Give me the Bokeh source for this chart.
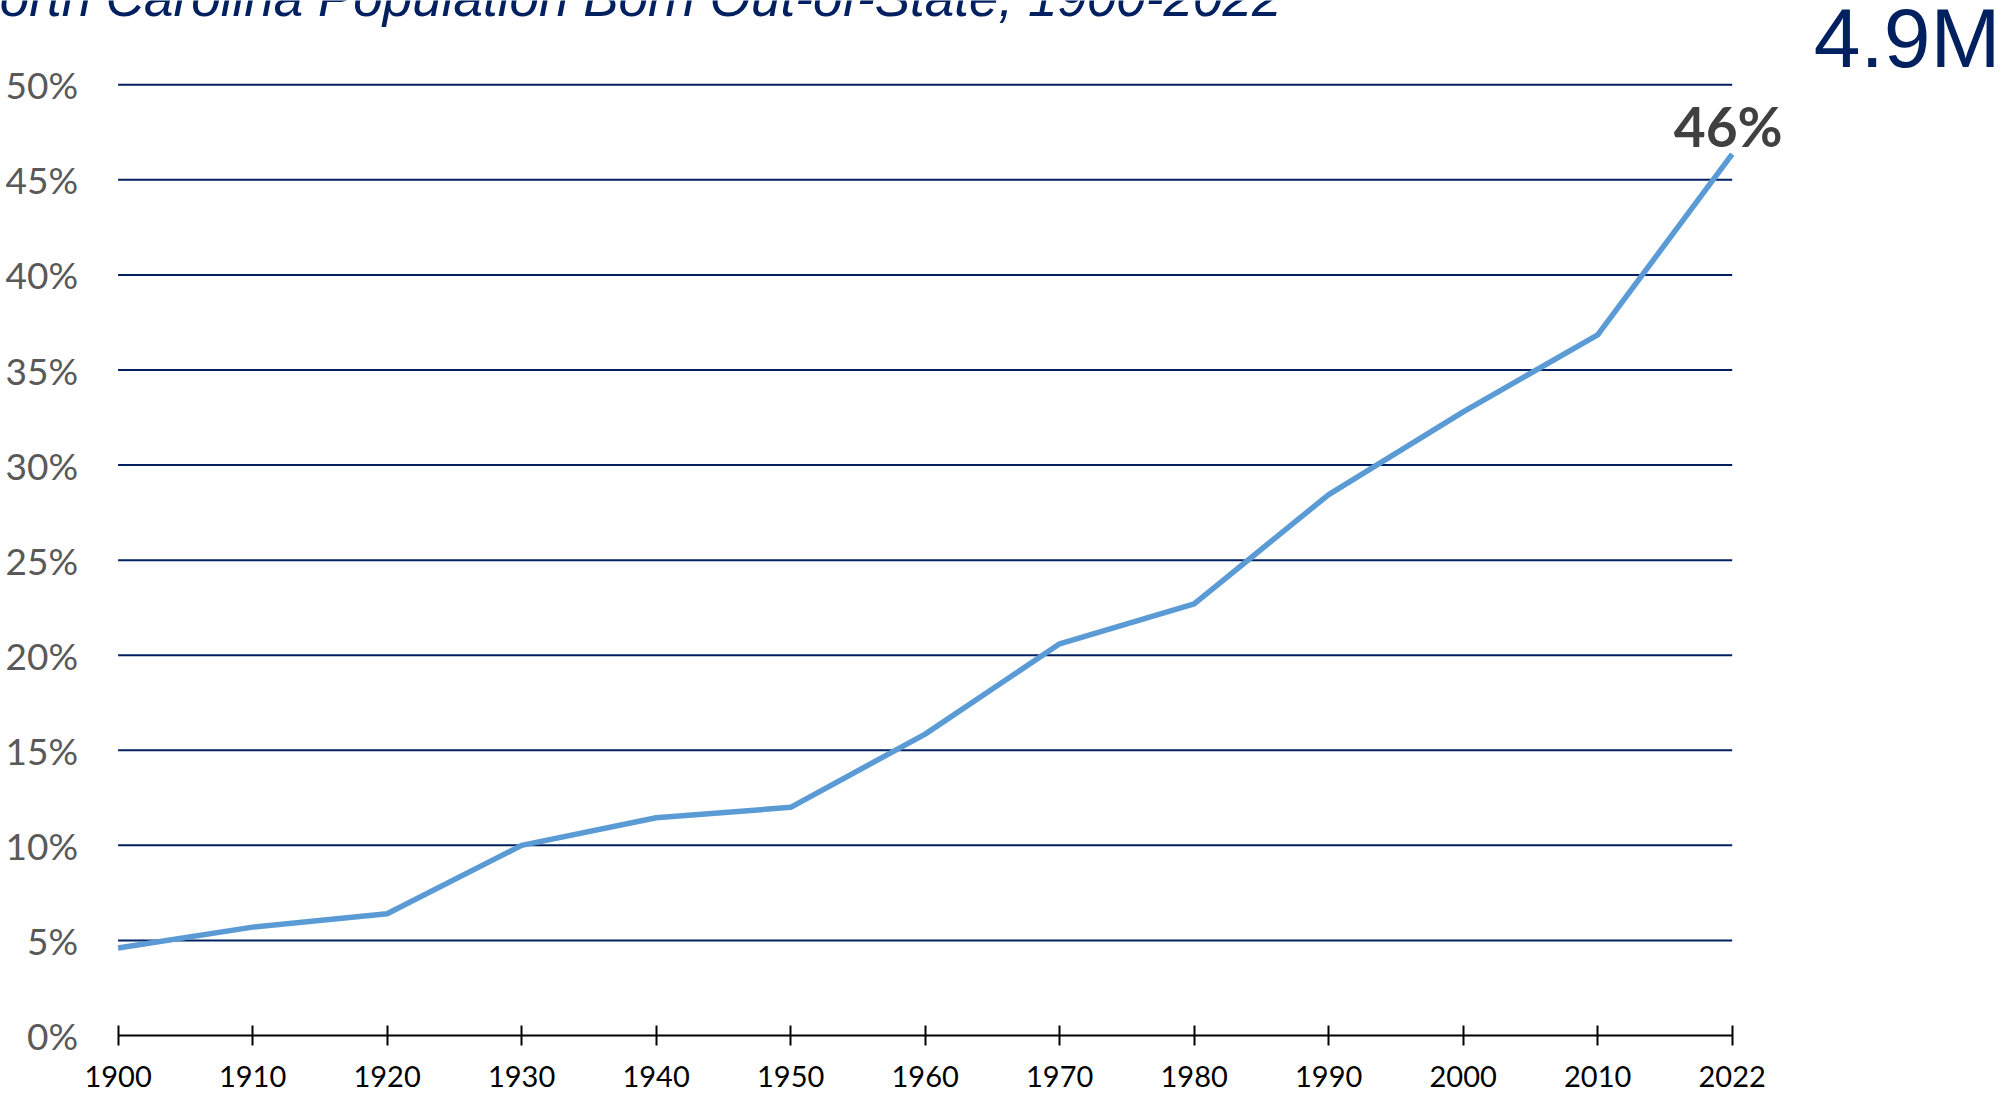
from bokeh.plotting import figure
from bokeh.models import Range1d, FixedTicker, Label
from bokeh.embed import file_html
from bokeh.resources import INLINE

# ---- data ----
years = ["1900", "1910", "1920", "1930", "1940", "1950", "1960",
         "1970", "1980", "1990", "2000", "2010", "2022"]
pct_out_of_state = [4.6, 5.7, 6.4, 10.0, 11.45, 12.0, 15.85,
                    20.6, 22.7, 28.45, 32.8, 36.85, 46.35]
y_ticks = [0, 5, 10, 15, 20, 25, 30, 35, 40, 45, 50]
title_text = "North Carolina Population Born Out-of-State, 1900-2022"
headline_text = "4.9M"

NAVY = "#002060"
LINE_BLUE = "#5B9BD5"

# ---- layout (pixels on the canvas) ----
W, H = 2004, 1095
PLOT_X0, PLOT_X1 = 117.6, 1731.7     # pixel x of first / last category
PLOT_Y0, PLOT_YTOP = 1035.0, 84.3    # pixel y of 0% / 50%

x_idx = list(range(len(years)))
n = len(years) - 1
px_per_x = (PLOT_X1 - PLOT_X0) / n
px_per_y = (PLOT_Y0 - PLOT_YTOP) / y_ticks[-1]
x_range = Range1d(-PLOT_X0 / px_per_x, n + (W - PLOT_X1) / px_per_x)
y_range = Range1d(-(H - PLOT_Y0) / px_per_y, PLOT_Y0 / px_per_y)

p = figure(width=W, height=H, output_backend="svg", toolbar_location=None,
           x_range=x_range, y_range=y_range,
           min_border=0, min_border_left=0, min_border_right=0,
           min_border_top=0, min_border_bottom=0)
p.outline_line_color = None
p.background_fill_color = "white"
p.border_fill_color = "white"
p.xgrid.visible = False
p.ygrid.visible = False

# horizontal gridlines spanning the category extent
grid_y = y_ticks[1:]
p.segment(x0=[x_idx[0]] * len(grid_y), x1=[x_idx[-1]] * len(grid_y),
          y0=grid_y, y1=grid_y, line_color=NAVY, line_width=2)

# data line
p.line(x_idx, pct_out_of_state, line_color=LINE_BLUE, line_width=5.5, line_join="round")

# x axis
xa = p.xaxis[0]
xa.fixed_location = 0
xa.bounds = (x_idx[0], x_idx[-1])
xa.ticker = FixedTicker(ticks=x_idx)
xa.major_label_overrides = {i: yr for i, yr in enumerate(years)}
xa.axis_line_color = "black"
xa.axis_line_width = 2
xa.major_tick_line_color = "black"
xa.major_tick_line_width = 2
xa.major_tick_in = 10
xa.major_tick_out = 10
xa.minor_tick_line_color = None
xa.major_label_text_font = "Lato"
xa.major_label_text_font_size = "29px"
xa.major_label_text_color = "black"
xa.major_label_standoff = 20

# y axis
ya = p.yaxis[0]
ya.fixed_location = x_idx[0]
ya.bounds = (y_ticks[0], y_ticks[-1])
ya.ticker = FixedTicker(ticks=y_ticks)
ya.major_label_overrides = {t: f"{t}%" for t in y_ticks}
ya.axis_line_color = None
ya.major_tick_line_color = None
ya.minor_tick_line_color = None
ya.major_tick_in = 0
ya.major_tick_out = 0
ya.major_label_text_font = "Lato"
ya.major_label_text_font_size = "37px"
ya.major_label_text_color = "#595959"
ya.major_label_standoff = 40

# end-value label
p.add_layout(Label(x=x_idx[-1], y=pct_out_of_state[-1],
                   text=f"{round(pct_out_of_state[-1])}%",
                   text_font="Lato", text_font_style="bold", text_font_size="55px",
                   text_color="#404040", text_align="center", text_baseline="alphabetic",
                   x_offset=-4, y_offset=28))

# title (cut at the top edge, as in the reference)
p.add_layout(Label(x=-39, y=H - 15, x_units="screen", y_units="screen",
                   text=title_text, text_font="Liberation Sans", text_font_style="italic",
                   text_font_size="53px", text_color=NAVY,
                   text_align="left", text_baseline="alphabetic", y_offset=18))

# headline number
p.add_layout(Label(x=2000, y=H - 66, x_units="screen", y_units="screen",
                   text=headline_text, text_font="Liberation Sans",
                   text_font_size="84px", text_color=NAVY,
                   text_align="right", text_baseline="alphabetic", y_offset=29))

open("out.html", "w").write(file_html(p, INLINE))
